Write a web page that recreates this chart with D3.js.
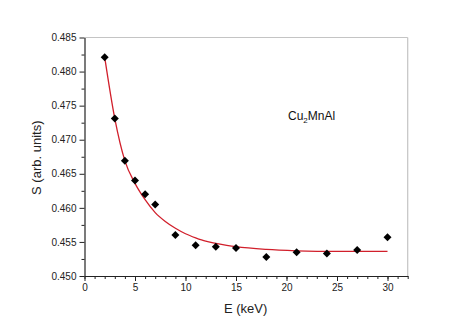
<!DOCTYPE html>
<html>
<head>
<meta charset="utf-8">
<script src="https://cdn.jsdelivr.net/npm/d3@7"></script>
<style>
  html, body { margin: 0; padding: 0; background: #fff; }
  svg { display: block; font-family: "Liberation Sans", Arial, sans-serif; }
</style>
</head>
<body>
<svg id="chart" width="474" height="331"></svg>
<script>
// Measured positron-annihilation S parameter versus positron energy
const energies = [2, 3, 4, 5, 6, 7, 9, 11, 13, 15, 18, 21, 24, 27, 30];
const sValues = [0.4821, 0.4731, 0.4669, 0.4640, 0.4620, 0.4605, 0.4560, 0.4545,
                 0.4543, 0.4541, 0.4528, 0.4535, 0.4533, 0.4538, 0.4557];

// Fitted curve, sampled along the energy axis
const fitEnergies = [2, 3, 4, 5, 6, 7, 8, 9, 10, 11, 12, 13, 15, 18, 21, 25, 30];
const fitValues = [0.4821, 0.4731, 0.4669, 0.4636, 0.4612, 0.4593, 0.4580, 0.4570,
                   0.4562, 0.4556, 0.4551, 0.4548, 0.4543, 0.4539, 0.4537, 0.4536, 0.4536];

const xMajorTicks = [0, 5, 10, 15, 20, 25, 30];
const yMajorTicks = [0.450, 0.455, 0.460, 0.465, 0.470, 0.475, 0.480, 0.485];
const sampleLabel = ["Cu", "2", "MnAl"];

const svg = d3.select("#chart");
const plotLeft = 84.5, plotRight = 407.7, plotTop = 37.5, plotBottom = 276;

const x = d3.scaleLinear().domain([0, 32]).range([plotLeft, plotRight]);
const y = d3.scaleLinear().domain([0.450, 0.485]).range([plotBottom, plotTop]);

// Frame: light top and right edges
svg.append("line").attr("x1", plotLeft).attr("x2", plotRight).attr("y1", plotTop).attr("y2", plotTop)
  .attr("stroke", "#c4c4c4").attr("stroke-width", 1.2);
svg.append("line").attr("x1", plotRight).attr("x2", plotRight).attr("y1", plotTop).attr("y2", plotBottom)
  .attr("stroke", "#c4c4c4").attr("stroke-width", 1.2);

// Minor ticks
svg.append("g").attr("transform", `translate(0,${plotBottom})`)
  .call(d3.axisBottom(x).tickValues(d3.range(0, 33, 1)).tickSize(3).tickFormat(""))
  .call(g => g.select(".domain").remove())
  .call(g => g.selectAll("line").attr("stroke", "#222"));
svg.append("g").attr("transform", `translate(${plotLeft},0)`)
  .call(d3.axisLeft(y).tickValues(d3.range(0.4525, 0.485, 0.005)).tickSize(3).tickFormat(""))
  .call(g => g.select(".domain").remove())
  .call(g => g.selectAll("line").attr("stroke", "#222"));

// Major axes
const xAxis = svg.append("g").attr("transform", `translate(0,${plotBottom})`)
  .call(d3.axisBottom(x).tickValues(xMajorTicks).tickSize(5).tickPadding(3).tickSizeOuter(0));
const yAxis = svg.append("g").attr("transform", `translate(${plotLeft},0)`)
  .call(d3.axisLeft(y).tickValues(yMajorTicks).tickSize(5).tickPadding(3)
    .tickFormat(d3.format(".3f")).tickSizeOuter(0));
[xAxis, yAxis].forEach(g => {
  g.select(".domain").attr("stroke", "#222").attr("stroke-width", 1.2);
  g.selectAll(".tick line").attr("stroke", "#222");
  g.selectAll("text").attr("font-size", 10).attr("fill", "#222")
    .attr("font-family", "Liberation Sans, Arial, sans-serif");
});

// Fitted curve
svg.append("path")
  .datum(fitEnergies.map((e, i) => [e, fitValues[i]]))
  .attr("fill", "none")
  .attr("stroke", "#d11f2b")
  .attr("stroke-width", 1.3)
  .attr("d", d3.line().x(d => x(d[0])).y(d => y(d[1])).curve(d3.curveMonotoneX));

// Data markers
svg.append("g").selectAll("path")
  .data(energies.map((e, i) => [e, sValues[i]]))
  .join("path")
  .attr("transform", d => `translate(${x(d[0])},${y(d[1])}) rotate(45)`)
  .attr("d", d3.symbol(d3.symbolSquare, 32)())
  .attr("fill", "#000");

// Axis titles
svg.append("text")
  .attr("x", (plotLeft + plotRight) / 2 - 0.5).attr("y", 313)
  .attr("text-anchor", "middle").attr("font-size", 13).attr("fill", "#222")
  .text("E (keV)");
svg.append("text")
  .attr("transform", `translate(41,${(plotTop + plotBottom) / 2 + 1}) rotate(-90)`)
  .attr("text-anchor", "middle").attr("font-size", 13).attr("fill", "#222")
  .text("S (arb. units)");

// Sample name with subscript
const lbl = svg.append("text").attr("x", 288).attr("y", 120)
  .attr("font-size", 12).attr("fill", "#111");
lbl.append("tspan").text(sampleLabel[0]);
lbl.append("tspan").attr("font-size", 8).attr("dy", 3).text(sampleLabel[1]);
lbl.append("tspan").attr("dy", -3).text(sampleLabel[2]);
</script>
</body>
</html>
